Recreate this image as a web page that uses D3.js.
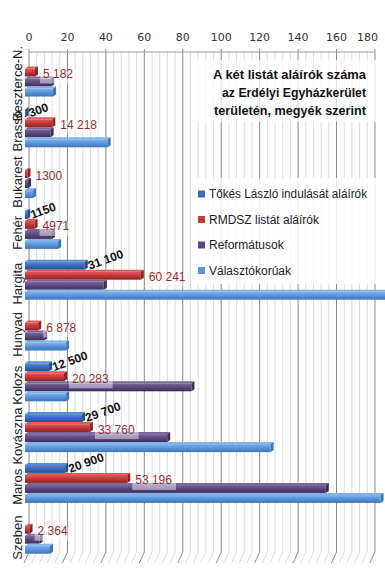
<!DOCTYPE html>
<html><head><meta charset="utf-8">
<script src="https://cdn.jsdelivr.net/npm/d3@7"></script>
<style>body{margin:0;background:#fff}svg{display:block}</style>
</head><body>
<script>
const categories = ["Beszterce-N.","Brassó","Bukarest","Fehér","Hargita","Hunyad","Kolozs","Kovászna","Maros","Szeben"];
const seriesNames = ["Tőkés László indulását aláírók","RMDSZ listát aláírók","Reformátusok","Választókorúak"];
// values in thousands
const tokes = [null, 0.3, null, 1.15, 31.1, null, 12.5, 29.7, 20.9, null];
const rmdsz = [5.182, 14.218, 1.3, 4.971, 60.241, 6.878, 20.283, 33.76, 53.196, 2.364];
const reformatusok = [13.6, 13.3, 1.6, 14, 41, 10, 86.6, 74, 156.5, 7.6];
const valasztokoruak = [14.6, 43, 4.2, 17.2, 192, 21.4, 21.4, 127.8, 185, 13];
const tokesLabels = [null, "300", null, "1150", "31 100", null, "12 500", "29 700", "20 900", null];
const rmdszLabels = ["5 182","14 218","1300","4971","60 241","6 878","20 283","33 760","53 196","2 364"];
const tickValues = [0,20,40,60,80,100,120,140,160,180];
const titleLines = ["A két listát aláírók száma","az Erdélyi Egyházkerület","területén, megyék szerint"];

const seriesData = [tokes, rmdsz, reformatusok, valasztokoruak];
const colors = [
  {base:"#3A6CBD", light:"#5C8BD5", dark:"#22508F"},
  {base:"#C6383A", light:"#DD5B59", dark:"#8C2224"},
  {base:"#5E4A80", light:"#7A679B", dark:"#3C2E57"},
  {base:"#5C96DC", light:"#80B2EC", dark:"#3F73B6"}
];

const W = 385, H = 570;
const svg = d3.select("body").append("svg").attr("width", W).attr("height", H);
const defs = svg.append("defs");
colors.forEach((c,i)=>{
  const g = defs.append("linearGradient").attr("id","g"+i).attr("x1",0).attr("y1",0).attr("x2",0).attr("y2",1);
  g.append("stop").attr("offset","0%").attr("stop-color",c.light);
  g.append("stop").attr("offset","45%").attr("stop-color",c.base);
  g.append("stop").attr("offset","100%").attr("stop-color",c.dark);
});

const x = d3.scaleLinear().domain([0,180]).range([25, 25 + 180*1.922]);
const backDx = 4;
const y = d3.scaleBand().domain(categories).range([52, 560]);
const ys = d3.scaleBand().domain(seriesNames).range([5.5, 45.5]).paddingInner(0.2).paddingOuter(0.1);
const plotTop = 52, floorY = 552, plotBottom = 563;

// gridlines
const gridG = svg.append("g");
const minor = d3.range(0, 181, 4).filter(v => v % 20 !== 0);
gridG.selectAll("path.minor").data(minor).join("path")
  .attr("d", v => `M${x(v)+backDx},${plotTop}V${floorY}L${x(v)-1},${plotBottom}`)
  .attr("fill","none").attr("stroke","#dcdcdc").attr("stroke-width",1);
gridG.selectAll("path.major").data(tickValues).join("path")
  .attr("d", v => `M${x(v)+backDx},${plotTop-3}V${floorY}L${x(v)-1},${plotBottom}`)
  .attr("fill","none").attr("stroke","#8a8a8a").attr("stroke-width",1);
gridG.append("line").attr("x1", x(0)+backDx).attr("x2", x(180)+backDx)
  .attr("y1", plotTop).attr("y2", plotTop).attr("stroke","#9a9a9a");

// tick labels
const tl = svg.append("g").selectAll("text").data(tickValues).join("text")
  .attr("x", v => x(v)+backDx).attr("y", 41)
  .attr("text-anchor","middle").attr("font-family","DejaVu Sans").attr("font-size",11)
  .attr("fill","#333").text(v => v);
tl.each(function(v){
  const w = this.getComputedTextLength();
  const cx = x(v)+backDx;
  if (cx + w/2 > 378) d3.select(this).attr("x", 378 - w/2);
});

// category labels
svg.append("g").selectAll("text").data(categories).join("text")
  .attr("text-anchor","middle").attr("font-family","Liberation Sans").attr("font-size",13)
  .attr("fill","#222").text(d => d)
  .each(function(d){
    const w = this.getComputedTextLength();
    let cy = y(d) + y.bandwidth()/2 + 3;
    if (cy - w/2 < 46) cy = 46 + w/2;
    d3.select(this).attr("transform", `translate(22,${cy}) rotate(-90)`);
  });

// title box + title
svg.append("rect").attr("x",192).attr("y",60).attr("width",193).attr("height",62)
  .attr("fill","#fff").attr("opacity",0.75);
const titleWidths = [153,144,152];
svg.append("g").selectAll("text").data(titleLines).join("text")
  .attr("x",366).attr("y",(d,i)=>79+i*18).attr("text-anchor","end")
  .attr("font-family","Liberation Sans").attr("font-weight","bold").attr("font-size",13)
  .attr("fill","#111").text(d=>d)
  .each(function(d,i){
    const w = this.getComputedTextLength();
    if (w > titleWidths[i]) d3.select(this).attr("textLength", titleWidths[i]).attr("lengthAdjust","spacingAndGlyphs");
  });

// bars
const barsG = svg.append("g");
const bw = ys.bandwidth();
categories.forEach((cat, ci) => {
  seriesData.forEach((arr, si) => {
    const v = arr[ci];
    if (v == null) return;
    const x0 = x(0), xe = x(v), yy = y(cat) + ys(seriesNames[si]);
    const c = colors[si];
    const g = barsG.append("g");
    g.append("path").attr("d", `M${x0},${yy}L${x0+3},${yy-2}L${xe+3},${yy-2}L${xe},${yy}Z`).attr("fill", c.light);
    g.append("rect").attr("x", x0).attr("y", yy).attr("width", Math.max(0.8, xe-x0)).attr("height", bw).attr("fill", `url(#g${si})`);
    g.append("path").attr("d", `M${xe},${yy}L${xe+3},${yy-2}L${xe+3},${yy+bw-2}L${xe},${yy+bw}Z`).attr("fill", c.dark);
  });
});

// RMDSZ labels
const labG = svg.append("g");
categories.forEach((cat, ci) => {
  const v = rmdsz[ci];
  const cy = y(cat) + ys(seriesNames[1]) + bw/2 + 1;
  const t = labG.append("text").attr("x", x(v)+8).attr("y", cy+4.5)
    .attr("font-family","Liberation Sans").attr("font-size",12).attr("fill","#9E2B2B")
    .text(rmdszLabels[ci]);
  const w = t.node().getComputedTextLength();
  labG.insert("rect", () => t.node()).attr("x", x(v)+5).attr("y", cy-4).attr("width", w+7).attr("height", 14)
    .attr("fill","#fff").attr("opacity",0.45);
});
// Tőkés labels
categories.forEach((cat, ci) => {
  const v = tokes[ci];
  if (v == null) return;
  const cy = y(cat) + ys(seriesNames[0]) + bw/2;
  labG.append("text").attr("transform", `translate(${x(v)+5},${cy+4}) rotate(-20)`)
    .attr("font-family","Liberation Sans").attr("font-size",12).attr("font-weight","bold").attr("fill","#111")
    .text(tokesLabels[ci]);
});

// legend
const lg = svg.append("g");
lg.append("rect").attr("x",192).attr("y",178).attr("width",193).attr("height",106).attr("fill","#fff").attr("opacity",0.85);
seriesNames.forEach((s, i) => {
  const ly = 194 + i*25.5;
  lg.append("rect").attr("x",198).attr("y",ly-3.5).attr("width",7).attr("height",7).attr("fill",colors[i].base);
  lg.append("text").attr("x",209).attr("y",ly+4).attr("font-family","Liberation Sans").attr("font-size",12)
    .attr("fill","#222").text(s)
    .each(function(){ const w=this.getComputedTextLength(); if (w>158) d3.select(this).attr("textLength",158).attr("lengthAdjust","spacingAndGlyphs"); });
});
</script>
</body></html>
